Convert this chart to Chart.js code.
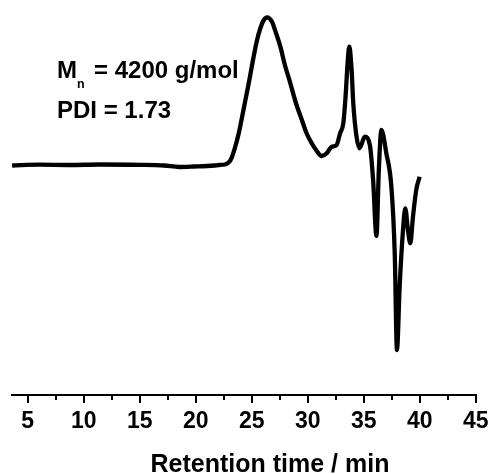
<!DOCTYPE html>
<html>
<head>
<meta charset="utf-8">
<script src="https://cdn.jsdelivr.net/npm/chart.js@4/dist/chart.umd.min.js"></script>
<style>
  html, body { margin: 0; padding: 0; background: #fff; }
  #wrap { width: 493px; height: 474px; position: relative; }
</style>
</head>
<body>
<div id="wrap"><canvas id="gpc"></canvas></div>
<script>
// GPC trace: retention time (min) vs. detector signal (arbitrary units)
const retentionTime = [
  3.61, 6.0, 8.76, 11.42, 14.97, 17.19, 18.53, 19.86, 21.64, 22.08, 22.61,
  23.12, 23.5, 23.85, 24.3, 24.74, 25.1, 25.48, 25.81, 26.08, 26.37, 26.81,
  27.14, 27.56, 27.94, 28.45, 28.92, 29.48, 29.89, 30.36, 30.78, 31.25, 31.7,
  32.14, 32.58, 32.89, 33.18, 33.38, 33.56, 33.71, 33.92, 34.07, 34.36, 34.63,
  35.1, 35.55, 35.84, 36.14, 36.35, 36.58, 37.02, 37.47, 37.77, 37.97, 38.21,
  38.51, 38.71, 38.95, 39.16, 39.4, 39.69, 39.99
];
const signal = [
  -0.5, 0.3, 0, 0.5, 0.2, -0.5, -2, -1.5, -0.5, 0, 0.5,
  5, 17, 32, 57, 82, 104, 125, 138, 145, 147.7, 143.3,
  133, 118.3, 101, 81.7, 63, 45, 32, 21.7, 14.5, 9, 11.7,
  18.3, 20, 31.7, 41.7, 68.3, 101.7, 118.3, 95, 61.7, 28.3, 16.7,
  28.3, 20, -15, -71, -5, 35, 11.7, -21.7, -88, -185, -121.7,
  -65, -43.3, -65, -78.3, -51.7, -25, -11.7
];
const majorTicks = [5, 10, 15, 20, 25, 30, 35, 40, 45];
const minorTicks = [7.5, 12.5, 17.5, 22.5, 27.5, 32.5, 37.5, 42.5];
const axisTitle = 'Retention time / min';
const annotationLines = [
  { main: 'M', sub: 'n', rest: '= 4200 g/mol' },
  { main: 'PDI = 1.73' }
];

const FONT = '"Liberation Sans", Arial, sans-serif';

// short minor tick marks below the x axis, plus the axis title
const axisExtrasPlugin = {
  id: 'axisExtras',
  afterDraw(chart) {
    const x = chart.scales.x;
    const ctx = chart.ctx;
    const y0 = chart.chartArea.bottom;
    ctx.save();
    ctx.strokeStyle = '#000';
    ctx.lineWidth = 2;
    minorTicks.forEach(v => {
      const px = Math.round(x.getPixelForValue(v));
      ctx.beginPath();
      ctx.moveTo(px, y0);
      ctx.lineTo(px, y0 + 5);
      ctx.stroke();
    });
    ctx.fillStyle = '#000';
    ctx.font = 'bold 25px ' + FONT;
    ctx.textAlign = 'center';
    ctx.textBaseline = 'alphabetic';
    ctx.fillText(axisTitle, 270, 471.5);
    ctx.restore();
  }
};

// Mn / PDI text block
const annotationPlugin = {
  id: 'mnText',
  afterDraw(chart) {
    const ctx = chart.ctx;
    ctx.save();
    ctx.fillStyle = '#000';
    ctx.textBaseline = 'alphabetic';
    ctx.textAlign = 'left';
    const l1 = annotationLines[0];
    ctx.font = 'bold 24px ' + FONT;
    ctx.fillText(l1.main, 57, 78.3);
    const mW = ctx.measureText(l1.main).width;
    ctx.font = 'bold 12.5px ' + FONT;
    ctx.fillText(l1.sub, 57 + mW, 88);
    ctx.font = 'bold 24px ' + FONT;
    ctx.fillText(l1.rest, 94, 78.3);
    ctx.fillText(annotationLines[1].main, 57, 118.3);
    ctx.restore();
  }
};

new Chart(document.getElementById('gpc'), {
  type: 'line',
  data: {
    datasets: [{
      data: retentionTime.map((t, i) => ({ x: t, y: signal[i] })),
      borderColor: '#000',
      borderWidth: 4.3,
      pointRadius: 0,
      fill: false,
      cubicInterpolationMode: 'monotone'
    }]
  },
  options: {
    responsive: true,
    maintainAspectRatio: false,
    animation: false,
    devicePixelRatio: 1,
    layout: { padding: { left: 12, right: 15, top: 5, bottom: 0 } },
    plugins: { legend: { display: false }, tooltip: { enabled: false } },
    scales: {
      x: {
        type: 'linear',
        min: 3.6,
        max: 45,
        afterBuildTicks(scale) {
          scale.ticks = majorTicks.map(v => ({ value: v }));
        },
        afterFit(scale) { scale.height = 79; },
        border: { display: true, color: '#000', width: 2 },
        grid: {
          drawOnChartArea: false,
          drawTicks: true,
          tickLength: 8,
          lineWidth: 2,
          color: '#000'
        },
        ticks: {
          color: '#000',
          padding: 4.5,
          maxRotation: 0,
          autoSkip: false,
          font: { family: FONT, size: 23, weight: 'bold' }
        },
        title: { display: false }
      },
      y: {
        display: false,
        min: -230,
        max: 160
      }
    }
  },
  plugins: [axisExtrasPlugin, annotationPlugin]
});
</script>
</body>
</html>
